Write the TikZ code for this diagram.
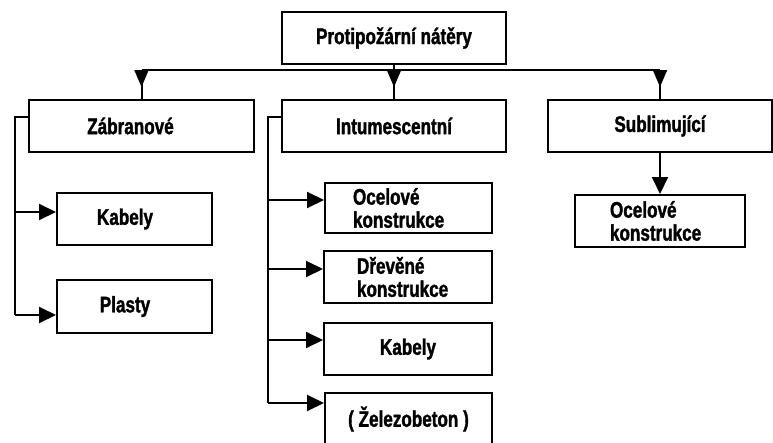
\documentclass[tikz,border=0pt]{standalone}
\usepackage{fontspec}
\setmainfont{Liberation Sans}[FakeStretch=0.76, FakeBold=1.5]
\usetikzlibrary{arrows.meta,decorations.markings}
\tikzstyle{chart} = [x = 1pt, y = -1pt]
\newcommand{\boxFont}{\fontsize{22.5}{23}\selectfont\bfseries}
\tikzstyle{boxStyle} = [draw=black, line width=2pt, inner sep=0pt, font=\boxFont, align=center]
\tikzstyle{leftText} = [align=left, text width=#1]
\tikzstyle{lineStyle} = [line width=2pt]
\tikzstyle{arrowStyle} = [lineStyle, -{Triangle[length=17pt, width=16pt]}]
\tikzstyle{busArrow} = [lineStyle, decoration={markings, mark=at position 17pt with {\arrow{Triangle[length=17pt, width=14pt]}}}, postaction=decorate]
\newcommand{\chartBox}[5]{\node [boxStyle, minimum width=#4pt, minimum height=#5pt] (#1) at (#2) {#3};}

\begin{document}
\begin{tikzpicture}[chart]
  \clip (0,0) rectangle (773,442);
  % main box and first level
  \chartBox{natery}{394,38}{Protipožární nátěry}{224}{52}
  \chartBox{zabran}{141.5,126}{Zábranové\hspace*{22pt}}{225}{52}
  \chartBox{intum}{394,126}{Intumescentní}{224}{52}
  \chartBox{sublim}{660,126}{Sublimující}{224}{52}

  % second level
  \chartBox{kabelA}{134.5,219}{Kabely\hspace*{19pt}}{155}{52}
  \chartBox{plasty}{134.5,306.5}{Plasty\hspace*{19pt}}{155}{53}
  \node [boxStyle, leftText=111pt, inner xsep=28pt, minimum height=50pt] (ocelA) at (408.5,208) {Ocelové\\konstrukce};
  \node [boxStyle, leftText=102pt, inner xsep=33pt, minimum height=52pt] (drevo) at (408,277) {Dřevěné\\konstrukce};
  \chartBox{kabelB}{408,349}{Kabely}{168}{52}
  \chartBox{zelezo}{408.5,419}{( Železobeton )}{167}{52}
  \node [boxStyle, leftText=100pt, inner xsep=35pt, minimum height=52pt] (ocelB) at (660,221) {Ocelové\\konstrukce\vphantom{\rule{0pt}{10pt}}};

  % bus under the main box
  \coordinate (busMid) at (natery.south |- 0,70);
  \draw [lineStyle] (natery.south) -- (busMid);
  \draw [lineStyle] (zabran.north |- busMid) -- (sublim.north |- busMid);
  \foreach \child in {zabran, intum, sublim} {
    \draw [busArrow] (\child.north |- busMid) -- (\child.north);
  }

  % Zabranove branch
  \coordinate (zabOut) at ([yshift=9pt]zabran.west);
  \coordinate (zabTrunk) at (15,117);
  \coordinate (zabA) at (15,212);
  \coordinate (zabB) at (15,315);
  \draw [lineStyle] (zabOut) -- (zabTrunk) -- (zabB);
  \draw [arrowStyle] (zabA) -- (zabA -| kabelA.west);
  \draw [arrowStyle] (zabB) -- (zabB -| plasty.west);

  % Intumescentni branch
  \coordinate (intOut) at ([yshift=9pt]intum.west);
  \coordinate (intTrunk) at (268,117);
  \coordinate (intEnd) at (268,403);
  \draw [lineStyle] (intOut) -- (intTrunk) -- (intEnd);
  \foreach \target/\ypos in {ocelA/200, drevo/269, kabelB/340, zelezo/403} {
    \coordinate (in\target) at (268,\ypos);
    \draw [arrowStyle] (in\target) -- (in\target -| \target.west);
  }

  % Sublimujici branch
  \draw [arrowStyle] (sublim.south) -- (ocelB.north);
\end{tikzpicture}
\end{document}
